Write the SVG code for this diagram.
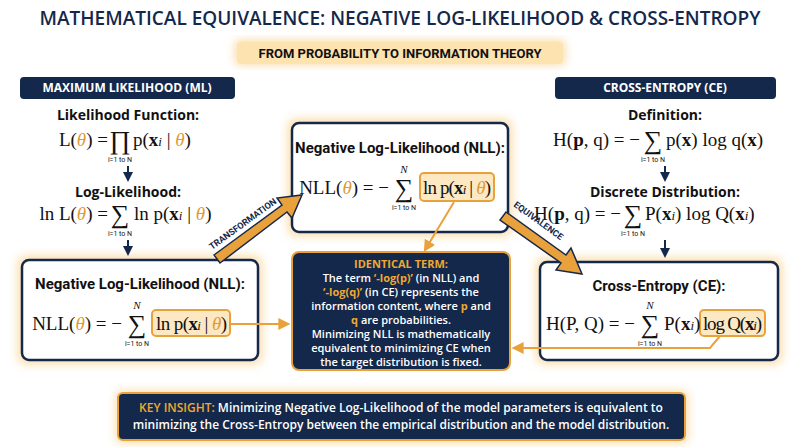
<svg xmlns="http://www.w3.org/2000/svg" width="800" height="447" viewBox="0 0 800 447">
<defs>
<filter id="glow" x="-20%" y="-20%" width="140%" height="140%"><feGaussianBlur stdDeviation="5"/></filter>
<marker id="ah" viewBox="0 0 10 10" refX="8" refY="5" markerWidth="6" markerHeight="6" orient="auto"><path d="M0,0L10,5L0,10z" fill="#e9a23b"/></marker>
<marker id="nh" viewBox="0 0 10 10" refX="8" refY="5" markerWidth="5" markerHeight="5" orient="auto"><path d="M0,0L10,5L0,10z" fill="#14284b"/></marker>
</defs>
<style>
.sans{font-family:"Open Sans","Liberation Sans",sans-serif}
.cond{font-family:Roboto,"Liberation Sans",sans-serif;font-weight:bold}
.m{font-family:"Liberation Serif",serif;font-size:19px;fill:#111}
.sg{font-family:"Liberation Serif","DejaVu Serif",serif;font-size:26px;fill:#111}
.nn{font-family:"Liberation Serif",serif;font-size:11px;font-style:italic;fill:#111}
.th{fill:#e09a30;font-style:italic}
.b{font-weight:bold}
.i{font-size:13px;font-style:italic}
.sub{font-family:Roboto,"Liberation Sans",sans-serif;font-size:7px;fill:#111}
.box{fill:#fff;stroke:#14284b;stroke-width:2.5}
.hl{fill:#fde8c4;stroke:#e9a23b;stroke-width:2}
.glow{fill:#f7c56e;opacity:0.6;filter:url(#glow)}
.hd{fill:#14284b}
.ht{font-family:"Open Sans","Liberation Sans",sans-serif;font-weight:bold;font-size:12px;fill:#fff}
.lbl{font-family:"Open Sans","Liberation Sans",sans-serif;font-weight:bold;font-size:14px;fill:#111}
.bt{font-family:Roboto,"Liberation Sans",sans-serif;font-weight:bold;font-size:15px;fill:#111}
.dn{stroke:#14284b;stroke-width:2;marker-end:url(#nh)}
</style>
<rect width="800" height="447" fill="#fff"/>
<text x="400" y="25" text-anchor="middle" class="sans" font-size="19" font-weight="600" fill="#14284b">MATHEMATICAL EQUIVALENCE: NEGATIVE LOG-LIKELIHOOD &amp; CROSS-ENTROPY</text>
<g id="subtitle">
<rect x="235" y="40" width="330" height="25" rx="4" class="glow"/>
<rect x="237" y="42" width="326" height="22" rx="4" fill="#fde3b0"/>
<text x="400" y="58" text-anchor="middle" class="cond" font-size="13" fill="#111">FROM PROBABILITY TO INFORMATION THEORY</text>
</g>
<g id="ml-header"><rect x="20" y="77" width="215" height="22" rx="4" class="hd"/><text x="127" y="92" text-anchor="middle" class="ht">MAXIMUM LIKELIHOOD (ML)</text></g>
<g id="ce-header"><rect x="555" y="77" width="221" height="22" rx="4" class="hd"/><text x="665" y="92" text-anchor="middle" class="ht">CROSS-ENTROPY (CE)</text></g>
<g id="likelihood">
<text x="128" y="120" text-anchor="middle" class="lbl">Likelihood Function:</text>
<text x="108" y="146" text-anchor="end" class="m">L(<tspan class="th">θ</tspan>) =</text>
<text x="120" y="149" text-anchor="middle" class="sg">∏</text>
<text x="133" y="146" class="m">p(<tspan class="b">x</tspan><tspan class="i">i</tspan> | <tspan class="th">θ</tspan>)</text>
<text x="120" y="162" text-anchor="middle" class="sub">i=1 to N</text>
</g>
<g id="loglik">
<text x="128" y="197" text-anchor="middle" class="lbl">Log-Likelihood:</text>
<text x="108" y="220" text-anchor="end" class="m">ln L(<tspan class="th">θ</tspan>) =</text>
<text x="120" y="223" text-anchor="middle" class="sg">∑</text>
<text x="134" y="220" class="m">ln p(<tspan class="b">x</tspan><tspan class="i">i</tspan> | <tspan class="th">θ</tspan>)</text>
<text x="120" y="236" text-anchor="middle" class="sub">i=1 to N</text>
</g>
<g id="definition">
<text x="665" y="120" text-anchor="middle" class="lbl">Definition:</text>
<text x="640" y="146" text-anchor="end" class="m">H(<tspan class="b">p</tspan>, q) = −</text>
<text x="653" y="149" text-anchor="middle" class="sg">∑</text>
<text x="666" y="146" class="m">p(<tspan class="b">x</tspan>) log q(<tspan class="b">x</tspan>)</text>
<text x="653" y="162" text-anchor="middle" class="sub">i=1 to N</text>
</g>
<g id="discrete">
<text x="665" y="197" text-anchor="middle" class="lbl">Discrete Distribution:</text>
<text x="621" y="220" text-anchor="end" class="m">H(<tspan class="b">p</tspan>, q) = −</text>
<text x="633" y="223" text-anchor="middle" class="sg">∑</text>
<text x="645" y="220" class="m">P(<tspan class="b">x</tspan><tspan class="i">i</tspan>) log Q(<tspan class="b">x</tspan><tspan class="i">i</tspan>)</text>
<text x="633" y="236" text-anchor="middle" class="sub">i=1 to N</text>
</g>
<g id="nll-left">
<rect x="18" y="256" width="244" height="108" rx="8" class="glow"/>
<rect x="22" y="260" width="236" height="100" rx="7" class="box"/>
<text x="140" y="289" text-anchor="middle" class="bt">Negative Log-Likelihood (NLL):</text>
<rect x="152" y="310" width="78" height="26" rx="4" class="hl"/>
<text x="122" y="330" text-anchor="end" class="m">NLL(<tspan class="th">θ</tspan>) = −</text>
<text x="137" y="333" text-anchor="middle" class="sg">∑</text>
<text x="156" y="330" class="m" textLength="71">ln p(<tspan class="b">x</tspan><tspan class="i">i</tspan> | <tspan class="th">θ</tspan>)</text>
<text x="137" y="309" text-anchor="middle" class="nn">N</text>
<text x="137" y="346" text-anchor="middle" class="sub">i=1 to N</text>
</g>
<g id="nll-center">
<rect x="288" y="119" width="224" height="117" rx="8" class="glow"/>
<rect x="292" y="123" width="216" height="109" rx="7" class="box"/>
<text x="400" y="153" text-anchor="middle" class="bt">Negative Log-Likelihood (NLL):</text>
<rect x="420" y="173" width="74" height="28" rx="4" class="hl"/>
<text x="389" y="194" text-anchor="end" class="m">NLL(<tspan class="th">θ</tspan>) = −</text>
<text x="404" y="197" text-anchor="middle" class="sg">∑</text>
<text x="423" y="194" class="m" textLength="68">ln p(<tspan class="b">x</tspan><tspan class="i">i</tspan> | <tspan class="th">θ</tspan>)</text>
<text x="404" y="173" text-anchor="middle" class="nn">N</text>
<text x="404" y="210" text-anchor="middle" class="sub">i=1 to N</text>
</g>
<g id="ce-box">
<rect x="536" y="258" width="246" height="106" rx="8" class="glow"/>
<rect x="540" y="262" width="238" height="98" rx="7" class="box"/>
<text x="659" y="291" text-anchor="middle" class="bt">Cross-Entropy (CE):</text>
<rect x="700" y="310" width="65" height="26" rx="4" class="hl"/>
<text x="635" y="330" text-anchor="end" class="m">H(P, Q) = −</text>
<text x="650" y="333" text-anchor="middle" class="sg">∑</text>
<text x="664" y="330" class="m">P(<tspan class="b">x</tspan><tspan class="i">i</tspan>)</text>
<text x="703" y="330" class="m" textLength="59">log Q(<tspan class="b">x</tspan><tspan class="i">i</tspan>)</text>
<text x="650" y="309" text-anchor="middle" class="nn">N</text>
<text x="650" y="346" text-anchor="middle" class="sub">i=1 to N</text>
</g>
<g id="identical">
<rect x="292" y="252" width="218" height="118" rx="7" fill="#14284b" stroke="#e9a23b" stroke-width="2"/>
<g class="sans" font-size="11" fill="#fff" text-anchor="middle" font-weight="600">
<text x="401" y="268" fill="#f0a830" font-weight="bold">IDENTICAL TERM:</text>
<text x="401" y="282">The term <tspan fill="#f0a830" font-weight="bold">‘-log(p)’</tspan> (in NLL) and</text>
<text x="401" y="296"><tspan fill="#f0a830" font-weight="bold">‘-log(q)’</tspan> (in CE) represents the</text>
<text x="401" y="310">information content, where <tspan fill="#f0a830" font-weight="bold">p</tspan> and</text>
<text x="401" y="324"><tspan fill="#f0a830" font-weight="bold">q</tspan> are probabilities.</text>
<text x="401" y="338">Minimizing NLL is mathematically</text>
<text x="401" y="352">equivalent to minimizing CE when</text>
<text x="401" y="366">the target distribution is fixed.</text>
</g>
</g>
<g id="connectors">
<line x1="128" y1="166" x2="128" y2="180" class="dn"/>
<line x1="128" y1="240" x2="128" y2="254" class="dn"/>
<line x1="665" y1="166" x2="665" y2="180" class="dn"/>
<line x1="665" y1="240" x2="665" y2="256" class="dn"/>
<line x1="230" y1="324" x2="288" y2="324" stroke="#e9a23b" stroke-width="2" marker-end="url(#ah)"/>
<line x1="454" y1="202" x2="425" y2="250" stroke="#e9a23b" stroke-width="2" marker-end="url(#ah)"/>
<polyline points="720,336 710,348 514,348" fill="none" stroke="#e9a23b" stroke-width="2" marker-end="url(#ah)"/>
<polygon points="214,255 282,205 277,198 302,195 292,218 287,212 220,263" fill="#e9a23b" stroke="#14284b" stroke-width="1.5"/>
<text x="0" y="0" transform="translate(212,250) rotate(-36)" class="cond" font-size="9" fill="#14284b">TRANSFORMATION</text>
<polygon points="506,212 566,255 571,248 582,274 556,270 561,263 500,220" fill="#e9a23b" stroke="#14284b" stroke-width="1.5"/>
<text x="0" y="0" transform="translate(513,206) rotate(36)" class="cond" font-size="9" fill="#14284b">EQUIVALENCE</text>
</g>
<g id="key-insight">
<rect x="116" y="391" width="572" height="52" rx="6" class="glow"/>
<rect x="118" y="393" width="567" height="47" rx="5" fill="#14284b" stroke="#e9a23b" stroke-width="2"/>
<g class="sans" font-size="12" fill="#fff" text-anchor="middle" font-weight="600">
<text x="401" y="412"><tspan fill="#f0a830">KEY INSIGHT:</tspan> Minimizing Negative Log-Likelihood of the model parameters is equivalent to</text>
<text x="401" y="429">minimizing the Cross-Entropy between the empirical distribution and the model distribution.</text>
</g>
</g>
</svg>
